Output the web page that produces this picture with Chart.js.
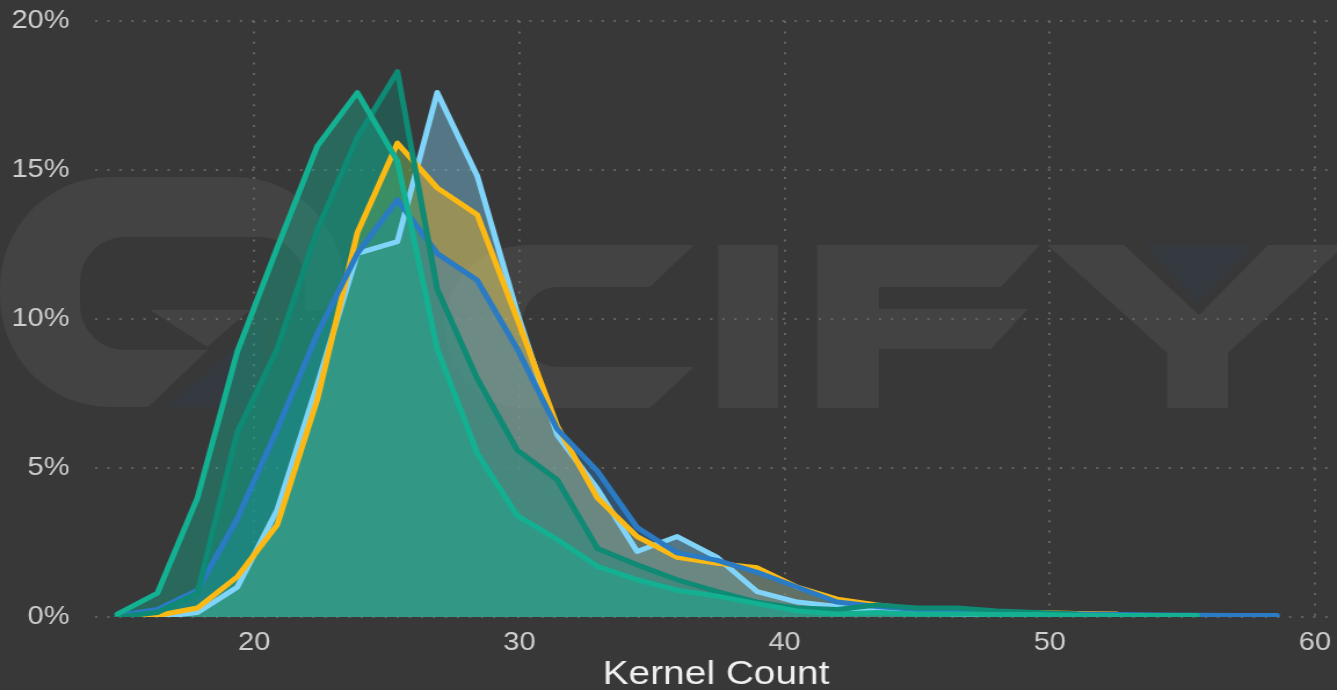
<!DOCTYPE html>
<html>
<head>
<meta charset="utf-8">
<script src="https://cdn.jsdelivr.net/npm/chart.js@4/dist/chart.umd.min.js"></script>
<style>
html,body{margin:0;padding:0;background:#383838;overflow:hidden;}
#wrap{width:1153px;height:690px;transform:scaleX(1.15958);transform-origin:0 0;}
canvas{display:block;}
</style>
</head>
<body>
<div id="wrap"><canvas id="c" width="1153" height="690"></canvas></div>
<script>
// ---- data (percent of kernels per bin) ----
const binCenters = [14.84,16.35,17.86,19.36,20.87,22.38,23.89,25.40,26.90,28.41,29.92,31.43,32.94,34.44,35.95,37.46,38.97,40.48,41.98,43.49,45.00,46.51,48.02,49.52,51.03,52.54,54.05,55.56,57.06,58.57];
const brightTeal = [0.1,0.8,4.0,8.9,12.4,15.8,17.6,15.3,9.0,5.5,3.4,2.6,1.7,1.25,0.9,0.7,0.45,0.2,0.1,0.15,0.1,0.1,0.08,0.08,0.06,0.05,0.05,0.05,null,null];
const darkTeal   = [0.0,0.15,0.8,6.2,9.0,13.0,16.1,18.3,11.0,8.0,5.6,4.6,2.3,1.75,1.25,0.85,0.5,0.3,0.25,0.4,0.3,0.3,0.2,0.15,0.1,null,null,null,null,null];
const blue       = [0.05,0.25,0.9,3.3,6.3,9.5,12.2,14.0,12.2,11.3,9.0,6.3,4.9,3.0,2.15,1.9,1.5,1.0,0.5,0.35,0.25,0.2,0.15,0.12,0.1,0.08,0.07,0.06,0.05,0.05];
const yellow     = [0,0.05,0.3,1.35,3.1,7.3,12.9,15.9,14.4,13.5,10.0,6.4,4.0,2.7,2.0,1.8,1.65,1.0,0.6,0.4,0.25,0.2,0.15,0.15,0.12,0.1,null,null,null,null];
const lightBlue  = [0,0,0.15,1.0,3.6,7.8,12.2,12.6,17.6,14.8,10.2,6.1,4.3,2.2,2.7,2.0,0.85,0.5,0.35,0.2,0.15,0.1,0.08,null,null,null,null,null,null,null];
const xTickValues = [20,30,40,50,60];
const yTickValues = [0,5,10,15,20];
const xTitle = 'Kernel Count';

const S = 1337/1153;
const FONT = 'Arial, "Liberation Sans", Helvetica, sans-serif';

function toPoints(arr){ return arr.map((v,i)=>({x:binCenters[i], y:v})); }
function ds(values, line, fillRGB){
  return {
    data: toPoints(values),
    borderColor: line,
    backgroundColor: 'rgba(' + fillRGB + ',0.4)',
    borderWidth: 5,
    pointRadius: 0,
    pointHoverRadius: 0,
    tension: 0,
    fill: 'origin',
    spanGaps: false,
    borderJoinStyle: 'round',
    borderCapStyle: 'round'
  };
}

function rr(ctx,x,y,w,h,r){
  ctx.moveTo(x+r,y);
  ctx.lineTo(x+w-r,y);
  ctx.arcTo(x+w,y,x+w,y+r,r);
  ctx.lineTo(x+w,y+h-r);
  ctx.arcTo(x+w,y+h,x+w-r,y+h,r);
  ctx.lineTo(x+r,y+h);
  ctx.arcTo(x,y+h,x,y+h-r,r);
  ctx.lineTo(x,y+r);
  ctx.arcTo(x,y,x+r,y,r);
  ctx.closePath();
}
function poly(ctx,pts,color){
  ctx.fillStyle=color;
  ctx.beginPath();
  pts.forEach((p,i)=> i?ctx.lineTo(p[0],p[1]):ctx.moveTo(p[0],p[1]));
  ctx.closePath();
  ctx.fill();
}

const watermark = {
  id:'watermark',
  beforeDraw(chart){
    const ctx = chart.ctx;
    ctx.save();
    ctx.fillStyle = '#383838';
    ctx.fillRect(0,0,chart.width,chart.height);
    ctx.scale(1/S,1);
    const G = '#434343', BG = '#383838', DK = '#343a40';
    // Q
    ctx.fillStyle = G;
    ctx.beginPath();
    rr(ctx,0,177,345,230,110);
    rr(ctx,80,237,225,113,45);
    ctx.fill('evenodd');
    poly(ctx,[[250,310],[360,310],[360,412],[143,412]],BG);
    poly(ctx,[[150,310],[250,310],[207,347]],G);
    poly(ctx,[[167,407],[262,325],[262,407]],DK);
    // C
    ctx.fillStyle = G;
    ctx.beginPath();
    ctx.moveTo(694,245);
    ctx.lineTo(530,245);
    ctx.bezierCurveTo(470,245,445,290,445,326);
    ctx.bezierCurveTo(445,365,470,408,530,408);
    ctx.lineTo(650,408);
    ctx.lineTo(694,367);
    ctx.lineTo(560,367);
    ctx.bezierCurveTo(535,367,522,350,522,327);
    ctx.bezierCurveTo(522,305,535,287,560,287);
    ctx.lineTo(650,287);
    ctx.closePath();
    ctx.fill();
    // I
    ctx.fillRect(718,245,60,163);
    // F
    poly(ctx,[[817,245],[1040,245],[1001,287],[879,287],[879,309],[1028,309],[991,349],[879,349],[879,408],[817,408]],G);
    // Y
    poly(ctx,[[1047,245],[1124,245],[1199,315],[1268,245],[1345,245],[1228,353],[1228,408],[1167,408],[1167,353]],G);
    poly(ctx,[[1145,245],[1253,245],[1199,302]],DK);
    ctx.restore();
  }
};

const gridOpts = {color:'#646464', lineWidth:2, drawTicks:false};
const borderOpts = {display:false, dash:[2,8.4]};

new Chart(document.getElementById('c'), {
  type:'line',
  data:{
    datasets:[
      ds(brightTeal,'#13b192','19,177,146'),
      ds(darkTeal,'#0e8a75','14,138,117'),
      ds(blue,'#2a7bc4','42,123,196'),
      ds(yellow,'#fdb913','253,185,19'),
      ds(lightBlue,'#80d4fa','128,212,250')
    ]
  },
  options:{
    responsive:false,
    devicePixelRatio:1,
    animation:false,
    layout:{padding:{top:21,left:0,right:0,bottom:0}},
    plugins:{
      legend:{display:false},
      tooltip:{enabled:false},
      filler:{drawTime:'beforeDatasetsDraw'}
    },
    scales:{
      x:{
        type:'linear',
        min:14, max:60.83,
        grid:gridOpts,
        border:borderOpts,
        afterBuildTicks:(s)=>{ s.ticks = xTickValues.map(v=>({value:v})); },
        afterFit:(s)=>{ s.height = 73; s.paddingLeft = 0; s.paddingRight = 0; },
        ticks:{color:'#cfcfcf', font:{family:FONT,size:25}, padding:11, maxRotation:0, autoSkip:false},
        title:{display:true, text:xTitle, color:'#f0f0f0', font:{family:FONT,size:33.5}, padding:{top:0,bottom:-5}}
      },
      y:{
        min:0, max:20,
        grid:gridOpts,
        border:borderOpts,
        afterBuildTicks:(s)=>{ s.ticks = yTickValues.map(v=>({value:v})); },
        afterFit:(s)=>{ s.width = 82; s.paddingTop = 0; s.paddingBottom = 0; },
        ticks:{color:'#cfcfcf', font:{family:FONT,size:25}, padding:22, callback:(v)=>v+'%'}
      }
    }
  },
  plugins:[watermark]
});
</script>
</body>
</html>
